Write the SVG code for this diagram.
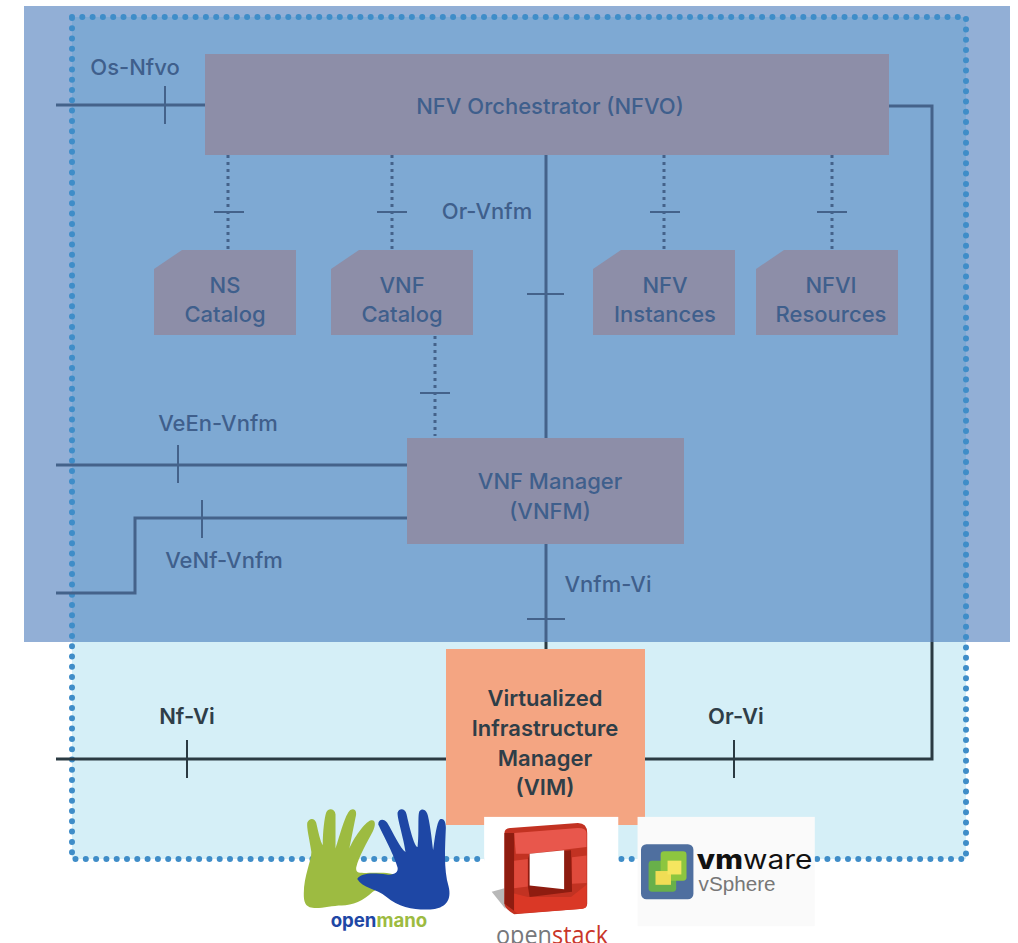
<svg xmlns="http://www.w3.org/2000/svg" width="1018" height="943" viewBox="0 0 1018 943">
<style>
.n{fill:#8d8ea8}
.t{font-family:Inter,"Liberation Sans",sans-serif;font-weight:500;font-size:22px;fill:#3f5f8c;text-anchor:middle}
.d{font-family:Inter,"Liberation Sans",sans-serif;font-weight:600;font-size:22px;fill:#2f3e48;text-anchor:middle}
.c{fill:none;stroke:#44628a;stroke-width:3}
.k{fill:none;stroke:#2b3a42;stroke-width:3}
.o{fill:none;stroke:#44628a;stroke-width:3;stroke-dasharray:3 4}
.h{fill:none;stroke:#44628a;stroke-width:2}
.hk{fill:none;stroke:#2b3a42;stroke-width:2}
</style>
<rect width="1018" height="943" fill="#fff"/>
<rect x="72" y="642" width="894" height="217" fill="#d5eff7"/>
<rect x="24" y="6" width="986" height="636" fill="#92afd6"/>
<rect x="72" y="17" width="894" height="625" fill="#7ea9d3"/>
<rect id="boundary" x="72" y="17" width="894" height="842" fill="none" stroke="#3f8dc8" stroke-width="6" stroke-linecap="round" stroke-dasharray="0 10.3"/>
<g id="connectors">
<path class="c" d="M56 105H205"/><path class="h" d="M165 86V124"/>
<path class="c" d="M889 106H932V642"/><path class="k" d="M932 642V759H645"/><path class="hk" d="M734 740V778"/>
<path class="o" d="M228 155V250"/><path class="h" d="M214 212H244"/>
<path class="o" d="M392 155V250"/><path class="h" d="M377 212H407"/>
<path class="o" d="M664 155V250"/><path class="h" d="M650 212H680"/>
<path class="o" d="M832 155V250"/><path class="h" d="M817 212H847"/>
<path class="c" d="M546 155V438"/><path class="h" d="M527 294H564"/>
<path class="o" d="M435 336V436"/><path class="h" d="M420 393H450"/>
<path class="c" d="M56 465H407"/><path class="h" d="M178 445V483"/>
<path class="c" d="M407 518H135V593H56"/><path class="h" d="M202 500V538"/>
<path class="c" d="M546 544V642"/><path class="k" d="M546 642V649"/><path class="h" d="M527 619H565"/>
<path class="k" d="M56 759H446"/><path class="hk" d="M187 740V778"/>
</g>
<g id="nfvo"><rect class="n" x="205" y="54" width="684" height="101"/><text class="t" x="550" y="114">NFV Orchestrator (NFVO)</text></g>
<g id="ns-catalog"><path class="n" d="M154 269L182 250H296V335H154Z"/><text class="t" x="225" y="293">NS</text><text class="t" x="225" y="322">Catalog</text></g>
<g id="vnf-catalog"><path class="n" d="M331 269L359 250H473V335H331Z"/><text class="t" x="402" y="293">VNF</text><text class="t" x="402" y="322">Catalog</text></g>
<g id="nfv-instances"><path class="n" d="M593 269L621 250H735V335H593Z"/><text class="t" x="665" y="293">NFV</text><text class="t" x="665" y="322">Instances</text></g>
<g id="nfvi-resources"><path class="n" d="M756 269L784 250H898V335H756Z"/><text class="t" x="831" y="293">NFVI</text><text class="t" x="831" y="322">Resources</text></g>
<g id="vnfm"><rect class="n" x="407" y="438" width="277" height="106"/><text class="t" x="550" y="489">VNF Manager</text><text class="t" x="550" y="519">(VNFM)</text></g>
<g id="vim"><rect x="446" y="649" width="199" height="176" fill="#f4a582"/><text class="d" x="545" y="706">Virtualized</text><text class="d" x="545" y="736">Infrastructure</text><text class="d" x="545" y="766">Manager</text><text class="d" x="545" y="795">(VIM)</text></g>
<g id="labels">
<text class="t" x="135" y="75">Os-Nfvo</text>
<text class="t" x="487" y="219">Or-Vnfm</text>
<text class="t" x="218" y="431">VeEn-Vnfm</text>
<text class="t" x="224" y="568">VeNf-Vnfm</text>
<text class="t" x="608" y="592">Vnfm-Vi</text>
<text class="d" x="187" y="724">Nf-Vi</text>
<text class="d" x="736" y="724">Or-Vi</text>
</g>
<g id="openmano" transform="translate(290 790) scale(.3448)">
<path fill="#9dbb41" d="M40 300C40 250 62 205 62 180C56 140 48 110 50 95C55 80 72 80 76 95C82 120 88 150 95 160C95 120 100 80 105 65C112 50 130 55 132 70L132 170C145 130 160 70 175 58C190 50 195 65 190 80L172 170C185 140 215 95 235 88C250 85 248 105 240 120C225 150 200 190 192 225C190 245 205 240 250 240C280 240 305 240 308 255C300 270 270 275 240 295C215 320 180 335 150 335C110 335 60 355 45 330C40 320 40 310 40 300Z"/>
<path fill="#1e47a5" d="M195 258C205 240 240 240 280 245C300 248 315 240 312 225C305 195 270 130 256 100C255 85 272 80 282 95C300 125 320 170 335 180C330 140 310 80 312 65C318 50 335 55 338 70C345 100 360 165 370 165C375 125 370 75 375 62C385 50 397 60 400 75C408 110 412 150 415 175C420 140 425 95 435 85C448 80 452 95 452 110C450 160 445 230 460 280C470 320 450 340 420 345C380 350 320 345 280 310C250 285 210 285 195 258Z"/>
<text x="258" y="398" text-anchor="middle" font-family="Inter,'Liberation Sans',sans-serif" font-weight="700" font-size="54" fill="#1e47a5">open<tspan fill="#9dbb41">mano</tspan></text>
</g>
<g id="openstack" transform="translate(290 790) scale(.3448)">
<rect x="563" y="78" width="389" height="381" fill="#fff"/>
<path fill="#b8b8b8" d="M622 285L585 295L625 345Z"/>
<path fill="#c23222" d="M622 125Q622 110 640 110L835 96Q862 96 862 125V330Q862 345 840 345L650 360Q622 345 622 330Z"/>
<path fill="#e8574c" d="M650 125L835 110Q860 110 860 125V165L695 185L655 185Z"/>
<path fill="#8e1c10" d="M622 125L650 125L650 350L622 330Z"/>
<path fill="#e04a3c" d="M650 205L690 200V280L650 285ZM818 195L860 190V270L818 272Z"/>
<path fill="#da3826" d="M650 300L690 310H815L860 275V335Q860 345 840 345L660 358L650 350Z"/>
<path fill="#8e1c10" d="M695 185L815 175L818 295L695 310L690 280V200Z"/>
<path fill="#fff" d="M695 185L795 175V288L695 277Z"/>
<text x="760" y="446" text-anchor="middle" font-family="'Open Sans','Liberation Sans',sans-serif" font-size="72" textLength="325" lengthAdjust="spacingAndGlyphs" fill="#77787b">open<tspan fill="#c9362a">stack</tspan></text>
</g>
<g id="vsphere" transform="translate(290 790) scale(.3448)">
<rect x="1008" y="78" width="514" height="317" fill="#fafafa"/>
<rect x="1018" y="157" width="152" height="160" rx="16" fill="#4f6f9f"/>
<rect x="1040" y="205" width="80" height="90" rx="10" fill="#68b04a"/>
<rect x="1075" y="178" width="75" height="85" rx="10" fill="#8dc63f"/>
<rect x="1060" y="235" width="45" height="40" fill="#f0dd55"/>
<rect x="1095" y="205" width="40" height="40" fill="#f5e65f"/>
<text x="1180" y="228" font-family="Inter,'Liberation Sans',sans-serif" font-size="76" textLength="335" lengthAdjust="spacingAndGlyphs" fill="#111"><tspan font-weight="800">vm</tspan>ware</text>
<text x="1185" y="293" font-family="'Liberation Sans',sans-serif" font-size="60" fill="#777">vSphere</text>
</g>
</svg>
